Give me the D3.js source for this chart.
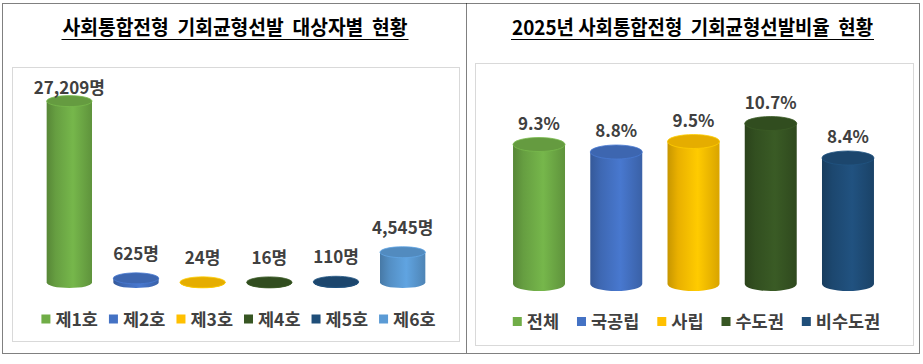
<!DOCTYPE html>
<html>
<head>
<meta charset="utf-8">
<script src="https://cdn.jsdelivr.net/npm/d3@7"></script>
<style>
body { margin: 0; background: #fff; }
text { font-family: "Noto Sans CJK KR", "Noto Sans", sans-serif; }
</style>
</head>
<body>
<div id="chart"></div>
<script>
// left panel data
var leftTitle = "사회통합전형  기회균형선발  대상자별  현황";
var leftCats = ["제1호", "제2호", "제3호", "제4호", "제5호", "제6호"];
var leftValues = [27209, 625, 24, 16, 110, 4545];
var leftColors = ["#70ad47", "#4472c4", "#ffc000", "#375623", "#1f4e79", "#5b9bd5"];

// right panel data
var rightTitle = "2025년 사회통합전형  기회균형선발비율  현황";
var rightCats = ["전체", "국공립", "사립", "수도권", "비수도권"];
var rightValues = [9.3, 8.8, 9.5, 10.7, 8.4];
var rightColors = ["#70ad47", "#4472c4", "#ffc000", "#375623", "#1f4e79"];

var width = 923, height = 364;

var svg = d3.select("#chart").append("svg")
    .attr("width", width)
    .attr("height", height);

var defs = svg.append("defs");

// dotted outer border + divider
svg.append("rect")
    .attr("x", 2.5).attr("y", 3.5)
    .attr("width", 917).attr("height", 350)
    .attr("fill", "none")
    .attr("stroke", "#000")
    .attr("stroke-dasharray", "1,1");
svg.append("line")
    .attr("x1", 466.5).attr("x2", 466.5)
    .attr("y1", 3.5).attr("y2", 353.5)
    .attr("stroke", "#000")
    .attr("stroke-dasharray", "1,1");

var gradCount = 0;
function cylGradient(c) {
    var id = "cyl" + (gradCount++);
    var col = d3.color(c);
    var lg = defs.append("linearGradient")
        .attr("id", id)
        .attr("x1", "0%").attr("x2", "100%")
        .attr("y1", "0%").attr("y2", "0%");
    lg.append("stop").attr("offset", "0%").attr("stop-color", col.darker(0.7));
    lg.append("stop").attr("offset", "20%").attr("stop-color", col.darker(0.25));
    lg.append("stop").attr("offset", "58%").attr("stop-color", col.brighter(0.15));
    lg.append("stop").attr("offset", "100%").attr("stop-color", col.darker(0.45));
    return id;
}

function drawPanel(p) {
    var g = svg.append("g");

    // plot frame
    g.append("rect")
        .attr("x", p.frame[0] + 0.5).attr("y", p.frame[1] + 0.5)
        .attr("width", p.frame[2]).attr("height", p.frame[3])
        .attr("fill", "#fff")
        .attr("stroke", "#d9d9d9");

    // title with underline
    g.append("text")
        .attr("x", p.titleX).attr("y", 35)
        .attr("text-anchor", "middle")
        .attr("font-size", 20)
        .attr("font-weight", "bold")
        .attr("fill", "#000")
        .style("white-space", "pre")
        .attr("textLength", p.titleW)
        .attr("lengthAdjust", "spacingAndGlyphs")
        .text(p.title);
    g.append("line")
        .attr("x1", p.titleX - p.titleW / 2 - 1).attr("x2", p.titleX + p.titleW / 2 + 1)
        .attr("y1", 39.5).attr("y2", 39.5)
        .attr("stroke", "#000").attr("stroke-width", 1.2);

    var x = d3.scaleBand()
        .domain(p.cats)
        .range(p.xRange)
        .paddingInner(p.pad)
        .paddingOuter(p.pad / 2);
    var y = d3.scaleLinear().domain(p.yDomain).range(p.yRange);

    var rx = x.bandwidth() / 2, ry = p.ry, yb = y(0);

    var bars = g.selectAll(".bar")
        .data(p.values)
        .enter().append("g")
        .attr("class", "bar");

    bars.append("path")
        .attr("fill", function(d, i) { return "url(#" + cylGradient(p.colors[i]) + ")"; })
        .attr("d", function(d, i) {
            var cx = x(p.cats[i]) + rx, yt = y(d);
            return "M" + (cx - rx) + "," + yt +
                "L" + (cx - rx) + "," + yb +
                "A" + rx + "," + ry + " 0 0 0 " + (cx + rx) + "," + yb +
                "L" + (cx + rx) + "," + yt + "Z";
        });

    bars.append("ellipse")
        .attr("cx", function(d, i) { return x(p.cats[i]) + rx; })
        .attr("cy", function(d) { return y(d); })
        .attr("rx", rx)
        .attr("ry", ry)
        .attr("fill", function(d, i) { return d3.color(p.colors[i]).darker(0.3); })
        .attr("stroke", function(d, i) { return d3.color(p.colors[i]).brighter(0.2); })
        .attr("stroke-width", 0.8);

    bars.append("text")
        .attr("x", function(d, i) { return x(p.cats[i]) + rx; })
        .attr("y", function(d) { return p.labelY(y(d) - ry); })
        .attr("text-anchor", "middle")
        .attr("font-size", 17)
        .attr("font-weight", "bold")
        .attr("fill", "#404040")
        .text(p.fmt);

    // legend, laid out in a row and centred
    var lg = g.append("g");
    var cursor = 0;
    p.cats.forEach(function(c, i) {
        var item = lg.append("g").attr("transform", "translate(" + cursor + ",0)");
        item.append("rect")
            .attr("x", 0).attr("y", -4.5)
            .attr("width", 9).attr("height", 9)
            .attr("fill", p.colors[i]);
        var tx = item.append("text")
            .attr("x", 14).attr("y", 6.5)
            .attr("font-size", 17.5)
            .attr("font-weight", "bold")
            .attr("fill", "#404040")
            .text(c);
        cursor += 14 + tx.node().getComputedTextLength() + p.legendGap;
    });
    var total = cursor - p.legendGap;
    lg.attr("transform", "translate(" + (p.legendX - total / 2) + "," + p.legendY + ")");
}

drawPanel({
    title: leftTitle, titleX: 235, titleW: 345,
    frame: [12, 67, 447, 274],
    cats: leftCats, values: leftValues, colors: leftColors,
    xRange: [36, 436], pad: 0.32,
    yDomain: [0, 30000], yRange: [282.5, 82.5], ry: 5.5,
    labelY: function(top) { return Math.max(top - 13, 94); },
    fmt: function(d) { return d3.format(",")(d) + "명"; },
    legendX: 238.5, legendY: 319, legendGap: 11
});

drawPanel({
    title: rightTitle, titleX: 692.5, titleW: 361,
    frame: [475, 63, 438, 282],
    cats: rightCats, values: rightValues, colors: rightColors,
    xRange: [500.4, 886.6], pad: 0.327,
    yDomain: [0, 12], yRange: [284, 104], ry: 7,
    labelY: function(top) { return top - 8; },
    fmt: function(d) { return d.toFixed(1) + "%"; },
    legendX: 696.5, legendY: 321.5, legendGap: 18
});
</script>
</body>
</html>
